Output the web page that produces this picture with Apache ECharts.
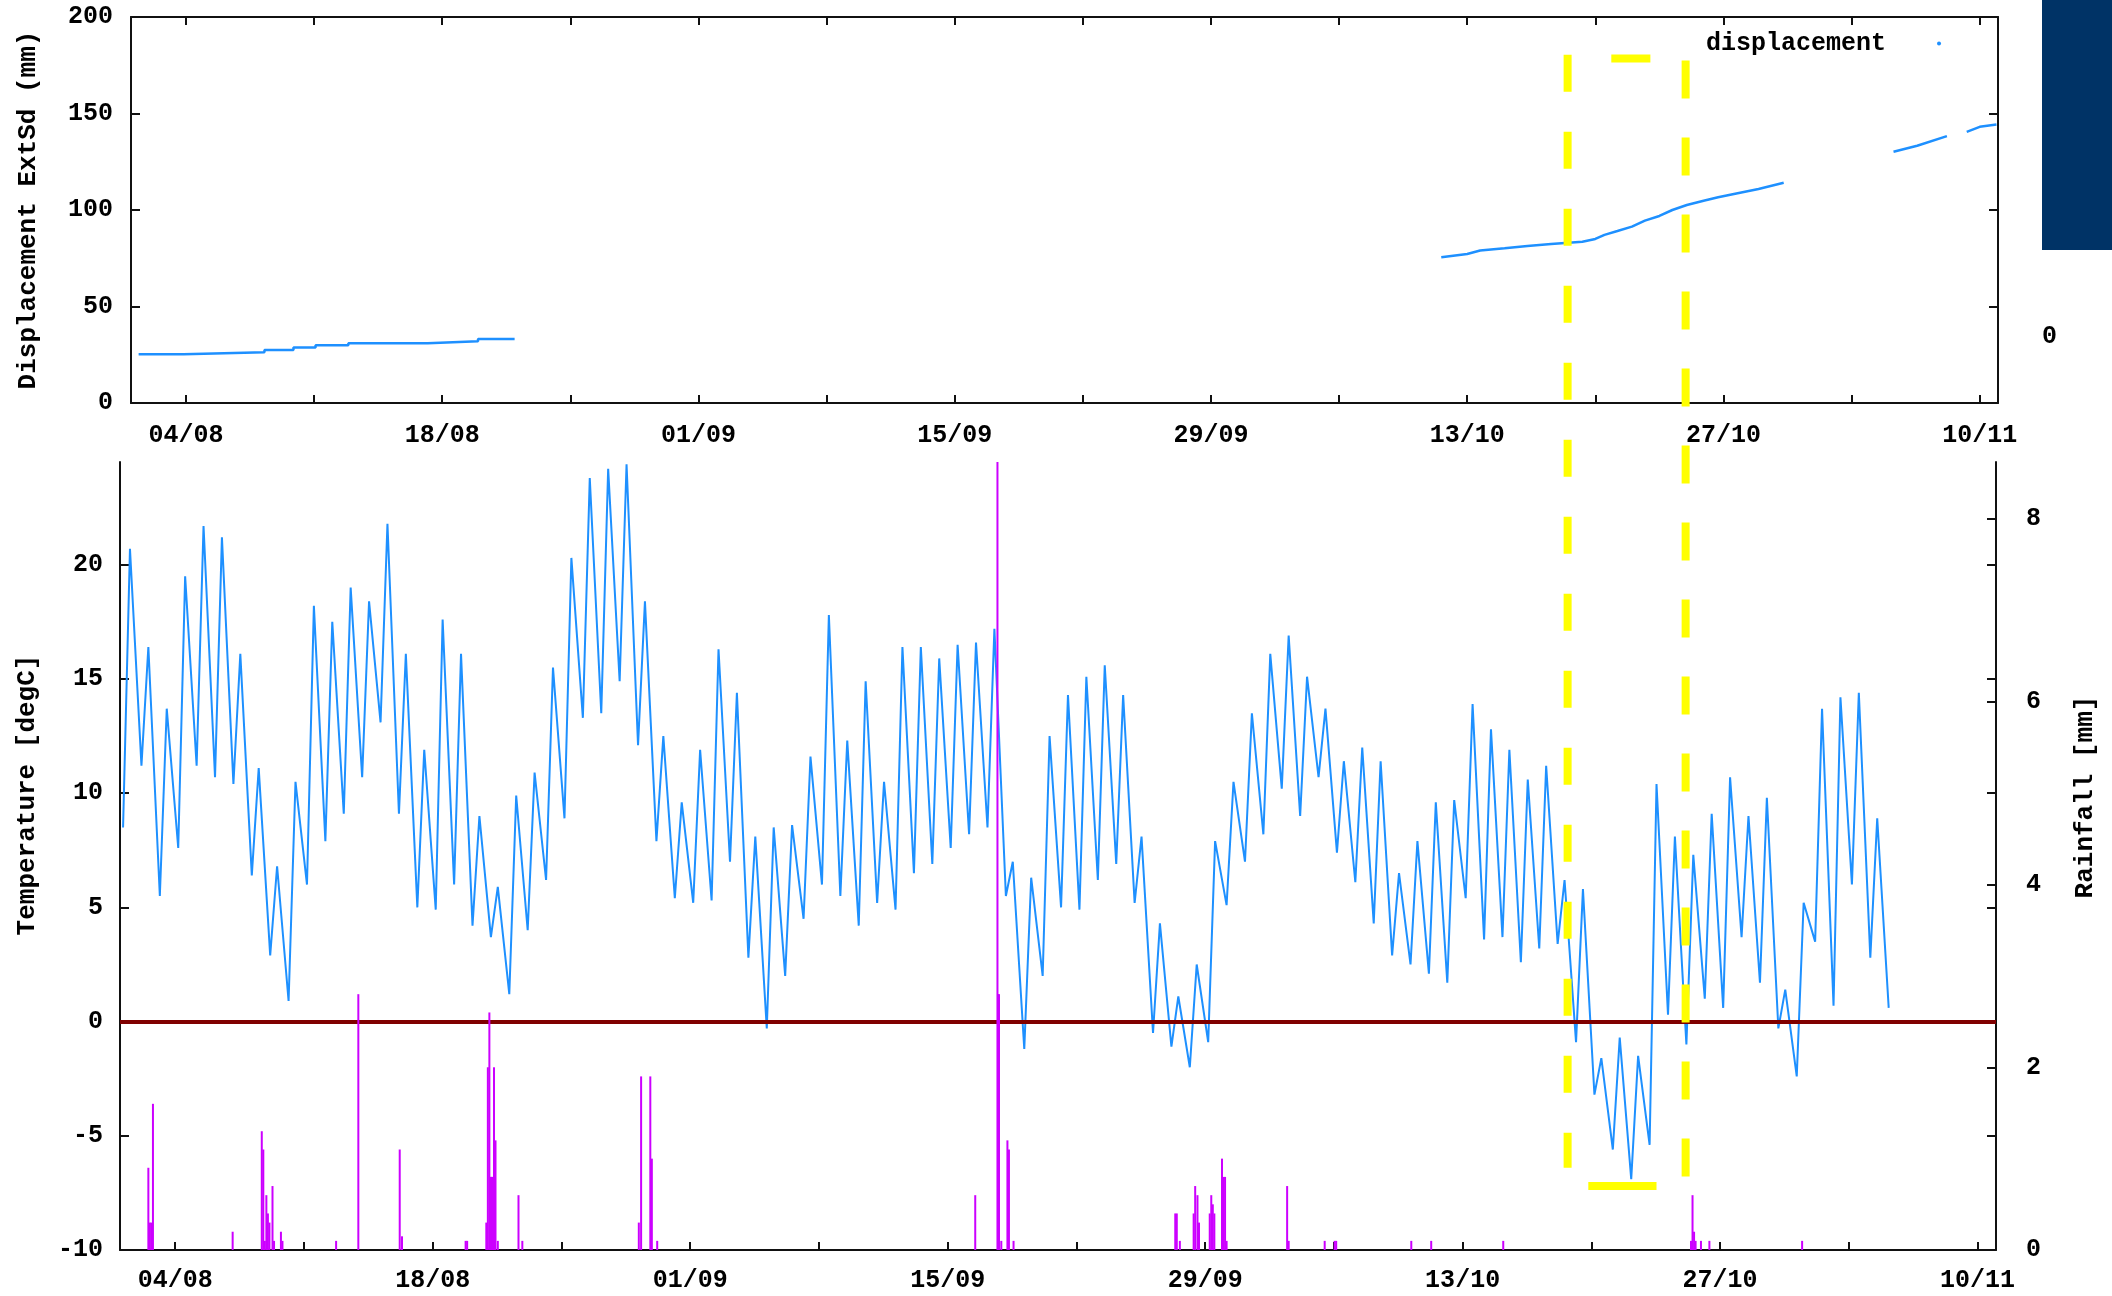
<!DOCTYPE html>
<html><head><meta charset="utf-8">
<script src="https://cdn.jsdelivr.net/npm/echarts@6/dist/echarts.min.js"></script>
<style>html,body{margin:0;padding:0;background:#fff}#c{width:2112px;height:1296px}</style>
</head><body><div id="c"></div>
<script>
// ---------- data ----------
const START = '2013-08-01';
const END = '2013-11-11';
// daily minimum (early morning) temperature, degC, from 01/08
const tempMin = [8.5, 11.2, 5.5, 7.6, 11.2, 10.7, 10.4, 6.4, 2.9, 0.9,
  6.0, 7.9, 9.1, 10.7, 13.1, 9.1, 5.0, 4.9, 6.0, 4.2,
  3.7, 1.2, 4.0, 6.2, 8.9, 13.3, 13.5, 14.9, 12.1, 7.9,
  5.4, 5.2, 5.3, 7.0, 2.8, -0.3, 2.0, 4.5, 6.0, 5.5,
  4.2, 5.2, 4.9, 6.5, 6.9, 7.6, 8.2, 8.5, 5.5, -1.2,
  2.0, 5.0, 4.9, 6.2, 6.9, 5.2, -0.5, -1.1, -2.0, -0.9,
  5.1, 7.0, 8.2, 10.2, 9.0, 10.7, 7.4, 6.1, 4.3, 2.9,
  2.5, 2.1, 1.7, 5.4, 3.6, 3.7, 2.6, 3.2, 3.4, -0.9,
  -3.2, -5.6, -6.9, -5.4, 0.3, -1.0, 1.0, 0.6, 3.7, 1.7,
  -0.3, -2.4, 3.5, 0.7, 6.0, 2.8, 0.6];
// daily maximum (afternoon) temperature, degC, from 01/08
const tempMax = [20.7, 16.4, 13.7, 19.5, 21.7, 21.2, 16.1, 11.1, 6.8, 10.5,
  18.2, 17.5, 19.0, 18.4, 21.8, 16.1, 11.9, 17.6, 16.1, 9.0,
  5.9, 9.9, 10.9, 15.5, 20.3, 23.8, 24.2, 24.4, 18.4, 12.5,
  9.6, 11.9, 16.3, 14.4, 8.1, 8.5, 8.6, 11.6, 17.8, 12.3,
  14.9, 10.5, 16.4, 16.4, 15.9, 16.5, 16.6, 17.2, 7.0, 6.3,
  12.5, 14.3, 15.1, 15.6, 14.3, 8.1, 4.3, 1.1, 2.5, 7.9,
  10.5, 13.5, 16.1, 16.9, 15.1, 13.7, 11.4, 12.0, 11.4, 6.5,
  7.9, 9.6, 9.7, 13.9, 12.8, 11.9, 10.6, 11.2, 6.2, 5.8,
  -1.6, -0.7, -1.5, 10.4, 8.1, 7.3, 9.1, 10.7, 9.0, 9.8,
  1.4, 5.2, 13.7, 14.2, 14.4, 8.9];
// hourly rainfall, mm
const rainTimes = ['2013-08-02 13:00','2013-08-02 15:00','2013-08-02 17:00','2013-08-02 19:00',
  '2013-08-07 03:00','2013-08-08 17:00','2013-08-08 19:00','2013-08-08 21:00','2013-08-08 23:00',
  '2013-08-09 01:00','2013-08-09 03:00','2013-08-09 07:00','2013-08-09 09:00','2013-08-09 18:00',
  '2013-08-09 20:00','2013-08-12 18:00','2013-08-13 23:00','2013-08-16 05:00','2013-08-16 08:00',
  '2013-08-19 19:00','2013-08-19 21:00','2013-08-20 22:00','2013-08-21 00:00','2013-08-21 02:00',
  '2013-08-21 03:00','2013-08-21 04:00','2013-08-21 05:00','2013-08-21 06:00','2013-08-21 08:00',
  '2013-08-21 10:00','2013-08-21 13:00','2013-08-22 16:00','2013-08-22 21:00',
  '2013-08-29 05:00','2013-08-29 08:00','2013-08-29 20:00','2013-08-29 22:00','2013-08-30 05:00',
  '2013-09-16 12:00','2013-09-17 17:00','2013-09-17 18:00','2013-09-17 19:00','2013-09-17 22:00',
  '2013-09-18 06:00','2013-09-18 08:00','2013-09-18 14:00',
  '2013-09-27 09:00','2013-09-27 11:00','2013-09-27 15:00','2013-09-28 09:00','2013-09-28 11:00',
  '2013-09-28 14:00','2013-09-28 16:00','2013-09-29 06:00','2013-09-29 08:00','2013-09-29 10:00',
  '2013-09-29 12:00','2013-09-29 22:00','2013-09-30 00:00','2013-09-30 02:00','2013-09-30 04:00',
  '2013-10-03 11:00','2013-10-03 13:00','2013-10-05 12:00','2013-10-06 01:00','2013-10-06 03:00',
  '2013-10-10 05:00','2013-10-11 07:00','2013-10-15 05:00',
  '2013-10-25 10:00','2013-10-25 12:00','2013-10-25 14:00','2013-10-25 16:00','2013-10-25 23:00',
  '2013-10-26 10:00','2013-10-31 11:00'];
const rainValues = [0.9, 0.3, 0.3, 1.6,
  0.2, 1.3, 1.1, 0.1, 0.6,
  0.4, 0.3, 0.7, 0.1, 0.2,
  0.1, 0.1, 2.8, 1.1, 0.15,
  0.1, 0.1, 0.3, 2.0, 2.6,
  0.8, 0.8, 0.8, 0.8, 2.0,
  1.2, 0.1, 0.6, 0.1,
  0.3, 1.9, 1.9, 1.0, 0.1,
  0.6, 9.0, 2.8, 2.8, 0.1,
  1.2, 1.1, 0.1,
  0.4, 0.4, 0.1, 0.4, 0.7,
  0.6, 0.3, 0.4, 0.6, 0.5,
  0.4, 1.0, 0.8, 0.8, 0.1,
  0.7, 0.1, 0.1, 0.1, 0.1,
  0.1, 0.1, 0.1,
  0.1, 0.6, 0.2, 0.1, 0.1,
  0.1, 0.1];
// displacement, mm (null = gap in record)
const dispTimes = ['2013-08-01 10:00','2013-08-03 21:00','2013-08-08 07:00','2013-08-09 21:00',
  '2013-08-11 02:00','2013-08-12 21:00','2013-08-17 05:00','2013-08-19 23:00','2013-08-21 23:00',
  '2013-09-15 00:00',
  '2013-10-11 14:00','2013-10-13 00:00','2013-10-13 17:00','2013-10-15 01:00','2013-10-16 07:00',
  '2013-10-17 14:00','2013-10-19 07:00','2013-10-20 00:00','2013-10-20 12:00','2013-10-21 05:00',
  '2013-10-22 00:00','2013-10-22 17:00','2013-10-23 12:00','2013-10-24 05:00','2013-10-25 00:00',
  '2013-10-25 22:00','2013-10-26 17:00','2013-10-27 17:00','2013-10-28 22:00','2013-10-30 07:00',
  '2013-11-02 00:00',
  '2013-11-05 07:00','2013-11-06 14:00','2013-11-08 05:00',
  '2013-11-08 20:00',
  '2013-11-09 07:00','2013-11-10 00:00','2013-11-10 22:00'];
const dispValues = [25.3, 26.3, 27.5, 28.7,
  29.9, 31.0, 32.0, 33.2, 33.5,
  null,
  75.5, 77.2, 79.0, 80.2, 81.4,
  82.4, 83.6, 85.0, 87.1, 89.1,
  91.4, 94.5, 96.9, 100.0, 102.6,
  104.8, 106.6, 108.6, 110.9, 114.1,
  null,
  130.2, 133.3, 138.3,
  null,
  140.5, 143.1, 144.3];
const tickDates = ['2013-08-04','2013-08-11','2013-08-18','2013-08-25','2013-09-01','2013-09-08',
  '2013-09-15','2013-09-22','2013-09-29','2013-10-06','2013-10-13','2013-10-20','2013-10-27',
  '2013-11-03','2013-11-10'];
const labelDates = ['2013-08-04','2013-08-18','2013-09-01','2013-09-15','2013-09-29','2013-10-13',
  '2013-10-27','2013-11-10'];
const dispTicks = [0, 50, 100, 150, 200];
const tempTicks = [-10, -5, 0, 5, 10, 15, 20];
const rainTicks = [0, 2, 4, 6, 8];
// hand-drawn highlight box (yellow)
const annot = {
  leftX: '2013-10-18 17:00', rightX: '2013-10-25 03:00',
  leftTopDisp: 180.5, rightTopDisp: 177.4, leftBottomTemp: -6.4, rightBottomTemp: -6.8,
  topBar: ['2013-10-21 02:00', '2013-10-23 05:00'], topBarDisp: 178.5,
  bottomBar: ['2013-10-19 20:00', '2013-10-23 13:00'], bottomBarTemp: -7.2
};

// ---------- helpers ----------
const ts = s => new Date(s.length === 10 ? s + 'T00:00:00' : s.replace(' ', 'T') + ':00').getTime();
const HOUR = 3600000, DAY = 24 * HOUR;
const t0 = ts(START);
const tempData = [];
for (let i = 0; i < tempMin.length; i++) {
  tempData.push([t0 + i * DAY + 4 * HOUR, tempMin[i]]);
  if (i < tempMax.length) tempData.push([t0 + i * DAY + 13 * HOUR, tempMax[i]]);
}
const rainData = rainTimes.map((s, i) => [ts(s), rainValues[i]]);
// split displacement record into continuous segments at the gaps
const dispSegs = [[]];
dispTimes.forEach((s, i) => {
  if (dispValues[i] === null) dispSegs.push([]);
  else dispSegs[dispSegs.length - 1].push([ts(s), dispValues[i]]);
});
const tickVals = tickDates.map(ts);
const labelVals = labelDates.map(ts);
const fmt = v => { const d = new Date(v); return String(d.getDate()).padStart(2, '0') + '/' + String(d.getMonth() + 1).padStart(2, '0'); };

const FONT = 'Liberation Mono';
const txt = {fontFamily: FONT, fontWeight: 'bold', fontSize: 25, color: '#000'};
const ttl = {fontFamily: FONT, fontWeight: 'bold', fontSize: 26, color: '#000'};
const axLine = {color: '#111', width: 2};
const BLUE = '#1E90FF';

function xAx(gridIndex, position, showLabel, margin) {
  return {
    type: 'value', gridIndex, position, min: ts(START), max: ts(END), scale: true,
    axisLine: {show: true, onZero: false, lineStyle: axLine},
    axisTick: {show: true, inside: true, length: 8, customValues: tickVals, lineStyle: axLine},
    axisLabel: {show: showLabel, customValues: labelVals, formatter: fmt, margin: margin, ...txt},
    splitLine: {show: false}, axisPointer: {show: false}
  };
}
function yAx(o) {
  return Object.assign({
    type: 'value', splitLine: {show: false},
    axisLine: {show: true, onZero: false, lineStyle: axLine},
    axisTick: {show: true, inside: true, length: 9, lineStyle: axLine},
    axisLabel: {show: false}
  }, o);
}

const dispSeries = dispSegs.map((seg, k) => ({
  name: 'displacement', type: 'line', xAxisIndex: 0, yAxisIndex: 0, data: seg,
  step: k === 0 ? 'end' : false, showSymbol: false, color: BLUE,
  lineStyle: {width: 2.5, color: BLUE}, z: 3
}));

const chart = echarts.init(document.getElementById('c'));
chart.setOption({
  animation: false,
  backgroundColor: '#fff',
  grid: [
    {left: 131, top: 17, width: 1867, height: 386},
    {left: 120, top: 462, width: 1876, height: 788}
  ],
  legend: {
    data: ['displacement'], left: 1701, top: 26, align: 'right', icon: 'circle',
    itemWidth: 4, itemHeight: 4, textStyle: {...txt, padding: [0, 46, 0, 0]}
  },
  xAxis: [xAx(0, 'bottom', true, 20), xAx(0, 'top', false, 8), xAx(1, 'bottom', true, 18)],
  yAxis: [
    yAx({gridIndex: 0, position: 'left', min: 0, max: 200,
      axisTick: {show: true, inside: true, length: 9, customValues: dispTicks, lineStyle: axLine},
      axisLabel: {show: true, customValues: dispTicks, margin: 18, ...txt},
      name: 'Displacement ExtSd (mm)', nameLocation: 'middle', nameGap: 90, nameTextStyle: {...ttl}}),
    yAx({gridIndex: 0, position: 'right', min: 0, max: 200,
      axisTick: {show: true, inside: true, length: 9, customValues: dispTicks, lineStyle: axLine}}),
    yAx({gridIndex: 1, position: 'left', min: -10, max: 24.5,
      axisTick: {show: true, inside: true, length: 9, customValues: tempTicks, lineStyle: axLine},
      axisLabel: {show: true, customValues: tempTicks, margin: 17, ...txt},
      name: 'Temperature [degC]', nameLocation: 'middle', nameGap: 80,
      nameTextStyle: {...ttl, padding: [0, 0, 0, 122]}}),
    yAx({gridIndex: 1, position: 'right', min: -10, max: 24.5, axisLine: {show: false},
      axisTick: {show: true, inside: true, length: 9, customValues: tempTicks, lineStyle: axLine}}),
    yAx({gridIndex: 1, position: 'right', min: 0, max: 8.625,
      axisTick: {show: true, inside: true, length: 9, customValues: rainTicks, lineStyle: axLine},
      axisLabel: {show: true, customValues: rainTicks, margin: 30, ...txt},
      name: 'Rainfall [mm]', nameLocation: 'middle', nameGap: 76, nameRotate: 90,
      nameTextStyle: {...ttl, padding: [0, 0, 0, 118]}})
  ],
  series: dispSeries.concat([
    {name: 'temperature', type: 'line', xAxisIndex: 2, yAxisIndex: 2, data: tempData,
      showSymbol: false, color: BLUE, lineStyle: {width: 2, color: BLUE}, z: 2,
      markLine: {silent: true, symbol: 'none', label: {show: false},
        lineStyle: {color: '#800000', width: 4, type: 'solid'}, data: [{yAxis: 0}], z: 3}},
    {name: 'rainfall', type: 'bar', xAxisIndex: 2, yAxisIndex: 4, data: rainData,
      barWidth: 2, color: '#CC00FF', itemStyle: {color: '#CC00FF'}, z: 4}
  ])
});

// decorations and hand-drawn highlight
const pTop = (t, v) => chart.convertToPixel({xAxisIndex: 0, yAxisIndex: 0}, [ts(t), v]);
const pBot = (t, v) => chart.convertToPixel({xAxisIndex: 2, yAxisIndex: 2}, [ts(t), v]);
const yl = {stroke: '#FFFF00', lineWidth: 8};
const lx = pBot(annot.leftX, 0)[0], rx = pBot(annot.rightX, 0)[0];
const ly1 = pTop(annot.leftX, annot.leftTopDisp)[1], ry1 = pTop(annot.rightX, annot.rightTopDisp)[1];
const ly2 = pBot(annot.leftX, annot.leftBottomTemp)[1], ry2 = pBot(annot.rightX, annot.rightBottomTemp)[1];
const tb1 = pBot(annot.topBar[0], 0)[0], tb2 = pBot(annot.topBar[1], 0)[0];
const tby = pTop(annot.topBar[0], annot.topBarDisp)[1];
const bb1 = pBot(annot.bottomBar[0], 0)[0], bb2 = pBot(annot.bottomBar[1], 0)[0];
const bby = pBot(annot.bottomBar[0], annot.bottomBarTemp)[1];
chart.setOption({
  graphic: [
    {type: 'rect', shape: {x: 2042, y: 0, width: 70, height: 250}, style: {fill: '#003366'}},
    {type: 'text', x: 2042, y: 337, style: {text: '0', ...txt, fill: '#000', verticalAlign: 'middle'}},
    {type: 'line', z: 100, shape: {x1: lx, y1: ly1, x2: lx, y2: ly2}, style: {...yl, lineDash: [37, 40]}},
    {type: 'line', z: 100, shape: {x1: rx, y1: ry1, x2: rx, y2: ry2}, style: {...yl, lineDash: [38, 39]}},
    {type: 'line', z: 100, shape: {x1: tb1, y1: tby, x2: tb2, y2: tby}, style: yl},
    {type: 'line', z: 100, shape: {x1: bb1, y1: bby, x2: bb2, y2: bby}, style: yl}
  ]
});
</script></body></html>
